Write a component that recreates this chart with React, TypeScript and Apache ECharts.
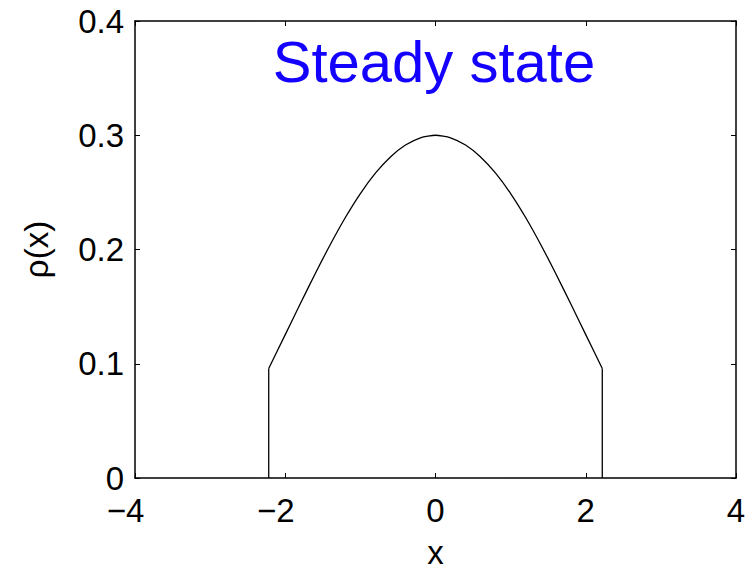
import React, { useEffect, useRef } from 'react';
import * as echarts from 'echarts';

const xTicks = [-4, -2, 0, 2, 4];
const yTicks = [0, 0.1, 0.2, 0.3, 0.4];
const xCurve = [-2.22, -2.0, -1.8, -1.6, -1.4, -1.2, -1.0, -0.8, -0.6, -0.4, -0.2, 0, 0.2, 0.4, 0.6, 0.8, 1.0, 1.2, 1.4, 1.6, 1.8, 2.0, 2.22];
const rhoCurve = [0.0958, 0.1255, 0.1525, 0.179, 0.2044, 0.228, 0.249, 0.2668, 0.281, 0.2914, 0.2978, 0.3, 0.2978, 0.2914, 0.281, 0.2668, 0.249, 0.228, 0.2044, 0.179, 0.1525, 0.1255, 0.0958];
const leftEdge = [[-2.22, 0], [-2.22, 0.0958]];
const rightEdge = [[2.22, 0.0958], [2.22, 0]];
const titleText = 'Steady state';
const xName = 'x';
const yName = 'ρ(x)';

const FONT = '"Liberation Sans", Arial, Helvetica, sans-serif';

export default function App() {
  const ref = useRef<HTMLDivElement>(null);
  useEffect(() => {
    if (!ref.current) return;
    const chart = echarts.init(ref.current, null, { renderer: 'svg' });
    const axisLine = { show: true, onZero: false, lineStyle: { color: '#000', width: 1.5 } };
    const axisTick = { show: true, inside: true, length: 5, lineStyle: { color: '#000', width: 1 } };
    const xMin = xTicks[0];
    const xMax = xTicks[xTicks.length - 1];
    const xInt = xTicks[1] - xTicks[0];
    const yMin = yTicks[0];
    const yMax = yTicks[yTicks.length - 1];
    const yInt = 0.1;
    chart.setOption({
      animation: false,
      backgroundColor: '#fff',
      textStyle: { fontFamily: FONT },
      grid: { left: 135, right: 16, top: 21, bottom: 94, containLabel: false },
      graphic: [
        {
          type: 'text',
          x: 434,
          y: 61,
          style: {
            text: titleText,
            fontSize: 58,
            fontFamily: FONT,
            fill: '#1400ff',
            align: 'center',
            verticalAlign: 'middle',
          },
        },
      ],
      xAxis: [
        {
          type: 'value',
          min: xMin,
          max: xMax,
          interval: xInt,
          position: 'bottom',
          axisLine,
          axisTick,
          splitLine: { show: false },
          name: xName,
          nameLocation: 'middle',
          nameGap: 58,
          nameTextStyle: { fontSize: 33, color: '#000', fontFamily: FONT },
          axisLabel: {
            margin: 19,
            color: '#000',
            fontSize: 33,
            lineHeight: 26,
            fontFamily: FONT,
            formatter: (v: number) =>
              v < 0 ? `{a|\u2212${-v}}{p|\u00a0}` : `{a|${v}}`,
            rich: {
              a: { fontSize: 33, lineHeight: 26, fontFamily: FONT, color: '#000' },
              p: { width: 19, fontSize: 33, lineHeight: 26, fontFamily: FONT },
            },
          },
        },
        {
          type: 'value',
          min: xMin,
          max: xMax,
          interval: xInt,
          position: 'top',
          axisLine,
          axisTick,
          axisLabel: { show: false },
          splitLine: { show: false },
        },
      ],
      yAxis: [
        {
          type: 'value',
          min: yMin,
          max: yMax,
          interval: yInt,
          position: 'left',
          axisLine,
          axisTick,
          splitLine: { show: false },
          name: yName,
          nameLocation: 'middle',
          nameGap: 82,
          nameRotate: 90,
          nameTextStyle: { fontSize: 33, color: '#000', fontFamily: FONT },
          axisLabel: {
            margin: 11,
            color: '#000',
            fontSize: 33,
            lineHeight: 26,
            fontFamily: FONT,
            formatter: (v: number) => (v === 0 ? '0' : v.toFixed(1)),
          },
        },
        {
          type: 'value',
          min: yMin,
          max: yMax,
          interval: yInt,
          position: 'right',
          axisLine,
          axisTick,
          axisLabel: { show: false },
          splitLine: { show: false },
        },
      ],
      series: [
        {
          type: 'line',
          data: xCurve.map((x, i) => [x, rhoCurve[i]]),
          smooth: 0.2,
          showSymbol: false,
          lineStyle: { color: '#000', width: 1.3 },
        },
        {
          type: 'line',
          data: leftEdge,
          showSymbol: false,
          lineStyle: { color: '#000', width: 1.3 },
        },
        {
          type: 'line',
          data: rightEdge,
          showSymbol: false,
          lineStyle: { color: '#000', width: 1.3 },
        },
      ],
    });
    return () => chart.dispose();
  }, []);
  return (
    <div
      ref={ref}
      style={{ position: 'absolute', left: 0, top: 0, width: 752, height: 574 }}
    />
  );
}
